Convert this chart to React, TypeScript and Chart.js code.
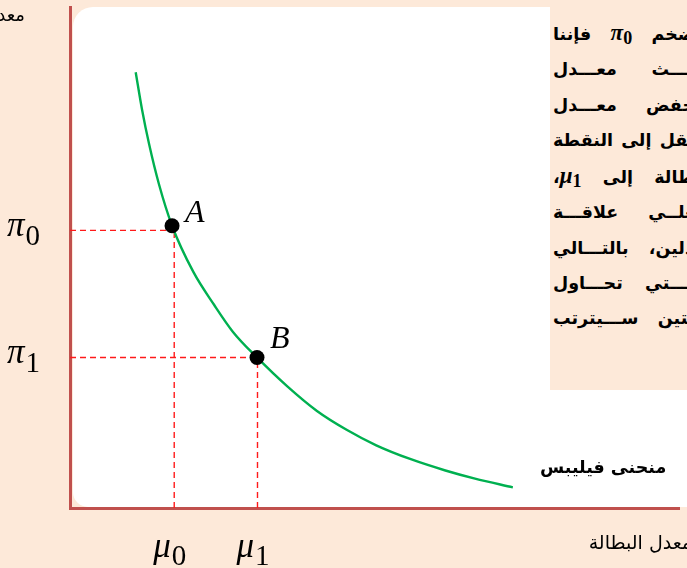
import React, { useEffect, useRef, useState } from "react";
import { Chart, registerables } from "chart.js";

Chart.register(...registerables);

// Phillips curve samples: x = unemployment, y = inflation (chart units)
const curveX = [66.5, 73, 80, 90, 103.3, 125, 146, 165, 189.3, 220, 250, 280, 310, 345, 380, 410, 448.3];
const curveY = [438, 400, 366, 325.6, 283.7, 237, 204, 177, 151.3, 122.2, 97.5, 78.6, 63, 49, 37.7, 29.5, 20.7];

// Marked states on the curve
const pointNames = ["A", "B"];
const pointX = [103.3, 189.3];
const pointY = [283.7, 151.3];

// Reference levels read on the axes (dashed guides)
const guideX = [105.5, 189.8];
const guideY = [279, 151.3];
const xTickSym = ["μ", "μ"];
const xTickSub = ["0", "1"];
const yTickSym = ["π", "π"];
const yTickSub = ["0", "1"];

const X_MAX = 617;
const Y_MAX = 503;

const yAxisTitle = "معدل التضخم";
const xAxisTitle = "معدل البطالة";
const curveName = "منحنى فيليبس";

type Part = { t?: string; m?: string; s?: string };
const noteLines: Part[][] = [
  [{ t: "\u200Dضخم " }, { m: "π", s: "0" }, { t: " فإننا" }],
  [{ t: "\u200Dيـــث معـــدل" }],
  [{ t: "\u200Dخفض معـــدل" }],
  [{ t: "\u200Dتقل إلى النقطة" }],
  [{ t: "\u200Dطالة إلى " }, { m: "μ", s: "1" }, { t: "،" }],
  [{ t: "\u200Dعلــي علاقـــة" }],
  [{ t: "\u200Dدلين، بالتـــالي" }],
  [{ t: "\u200Dلـــتي تحـــاول" }],
  [{ t: "\u200Dيتين ســـيترتب" }],
];

const PEACH = "#fde9d9";
const AXIS = "#c0504d";
const GREEN = "#00b050";
const GUIDE = "#ff1a1a";
const ARABIC = '"DejaVu Sans", sans-serif';
const SERIF = '"Liberation Serif", "DejaVu Serif", serif';

function MathLabel(props: {
  sym: string;
  sub: string;
  left: number;
  baseline: number;
  size: number;
  subSize: number;
  subDrop: number;
}) {
  const { sym, sub, left, baseline, size, subSize, subDrop } = props;
  return (
    <div
      style={{
        position: "absolute",
        left,
        top: baseline - 0.891 * size,
        fontFamily: SERIF,
        fontSize: size,
        lineHeight: "normal",
        whiteSpace: "nowrap",
        color: "#000",
      }}
    >
      <span style={{ fontStyle: "italic" }}>{sym}</span>
      <span style={{ fontSize: subSize, position: "relative", top: subDrop, marginLeft: 1 }}>{sub}</span>
    </div>
  );
}

export default function App() {
  const canvasRef = useRef<HTMLCanvasElement | null>(null);
  const [pix, setPix] = useState<null | { gx: number[]; gy: number[]; ax: number[]; ay: number[] }>(null);

  useEffect(() => {
    const canvas = canvasRef.current;
    if (!canvas) return;

    const curve = curveX.map((x, i) => ({ x, y: curveY[i] }));
    const dots = pointX.map((x, i) => ({ x, y: pointY[i] }));
    const guideSets: any[] = [];
    pointX.forEach((px, i) => {
      guideSets.push({
        type: "line",
        data: [
          { x: 0, y: guideY[i] },
          { x: px, y: guideY[i] },
        ],
        borderColor: GUIDE,
        borderWidth: 1.4,
        borderDash: [6, 4],
        pointRadius: 0,
        fill: false,
        order: 3,
      });
      guideSets.push({
        type: "line",
        data: [
          { x: guideX[i], y: 0 },
          { x: guideX[i], y: pointY[i] },
        ],
        borderColor: GUIDE,
        borderWidth: 1.4,
        borderDash: [6, 4],
        pointRadius: 0,
        fill: false,
        order: 3,
      });
    });

    const chart = new Chart(canvas, {
      type: "scatter",
      data: {
        datasets: [
          ...guideSets,
          {
            type: "line",
            data: curve,
            borderColor: GREEN,
            borderWidth: 2.4,
            pointRadius: 0,
            cubicInterpolationMode: "monotone",
            fill: false,
            order: 2,
          },
          {
            type: "scatter",
            data: dots,
            pointRadius: 7.5,
            backgroundColor: "#000",
            borderWidth: 0,
            order: 1,
          },
        ],
      },
      options: {
        animation: false,
        responsive: false,
        maintainAspectRatio: false,
        devicePixelRatio: 1,
        events: [],
        layout: { padding: { left: 70, top: 5, right: 0, bottom: 60 } },
        plugins: { legend: { display: false }, tooltip: { enabled: false } },
        scales: {
          x: {
            type: "linear",
            min: 0,
            max: X_MAX,
            ticks: { display: false },
            grid: { display: false, drawTicks: false },
            border: { display: true, color: AXIS, width: 3 },
            afterFit: (s: any) => {
              s.height = 0;
            },
          },
          y: {
            type: "linear",
            min: 0,
            max: Y_MAX,
            ticks: { display: false },
            grid: { display: false, drawTicks: false },
            border: { display: true, color: AXIS, width: 3 },
            afterFit: (s: any) => {
              s.width = 0;
            },
          },
        },
      } as any,
    } as any);

    const sx = chart.scales.x;
    const sy = chart.scales.y;
    setPix({
      gx: guideX.map((v) => sx.getPixelForValue(v)),
      gy: guideY.map((v) => sy.getPixelForValue(v)),
      ax: pointX.map((v) => sx.getPixelForValue(v)),
      ay: pointY.map((v) => sy.getPixelForValue(v)),
    });

    return () => chart.destroy();
  }, []);

  const labelDy = [-4, -10];

  return (
    <div
      style={{
        position: "fixed",
        left: 0,
        top: 0,
        width: 687,
        height: 568,
        background: PEACH,
        overflow: "hidden",
      }}
    >
      {/* white plot panel */}
      <div
        style={{
          position: "absolute",
          left: 73,
          top: 7,
          width: 640,
          height: 500,
          background: "#fff",
          borderRadius: "20px 0 0 15px",
        }}
      />
      <canvas
        ref={canvasRef}
        width={687}
        height={568}
        style={{ position: "absolute", left: 0, top: 0, width: 687, height: 568 }}
      />

      {/* explanatory note box, continuing past the right edge */}
      <div
        style={{
          position: "absolute",
          left: 550,
          top: 0,
          width: 137,
          height: 390,
          background: PEACH,
          overflow: "hidden",
        }}
      >
        <div
          style={{
            position: "absolute",
            left: 3,
            top: 15,
            width: 142,
            direction: "rtl",
            fontFamily: ARABIC,
            fontWeight: "bold",
            fontSize: 17.5,
            lineHeight: "35.3px",
            color: "#000",
          }}
        >
          {noteLines.map((parts, i) => (
            <div key={i} style={{ textAlign: "justify", textAlignLast: "justify", whiteSpace: "nowrap" }}>
              {parts.map((p, j) =>
                p.m ? (
                  <span
                    key={j}
                    dir="ltr"
                    style={{
                      unicodeBidi: "isolate",
                      fontFamily: SERIF,
                      fontStyle: "italic",
                      fontWeight: "bold",
                      fontSize: 23,
                    }}
                  >
                    {p.m}
                    <span style={{ fontStyle: "normal", fontSize: 18, position: "relative", top: 4 }}>{p.s}</span>
                  </span>
                ) : (
                  <span key={j}>{p.t}</span>
                )
              )}
            </div>
          ))}
        </div>
      </div>

      {/* axis titles */}
      <div
        style={{
          position: "absolute",
          right: 687 - 25,
          top: 4,
          direction: "rtl",
          whiteSpace: "nowrap",
          fontFamily: ARABIC,
          fontSize: 18,
          color: "#000",
        }}
      >
        {yAxisTitle}
      </div>
      <div
        style={{
          position: "absolute",
          right: -5,
          top: 531,
          direction: "rtl",
          whiteSpace: "nowrap",
          fontFamily: ARABIC,
          fontSize: 19,
          color: "#000",
        }}
      >
        {xAxisTitle}
      </div>

      {/* curve name */}
      <div
        style={{
          position: "absolute",
          left: 540,
          top: 457,
          direction: "rtl",
          whiteSpace: "nowrap",
          fontFamily: ARABIC,
          fontWeight: "bold",
          fontSize: 17.5,
          color: "#000",
        }}
      >
        {curveName}
      </div>

      {pix && (
        <>
          {yTickSym.map((s, i) => (
            <MathLabel
              key={"y" + i}
              sym={s}
              sub={yTickSub[i]}
              left={7}
              baseline={pix.gy[i] + 6}
              size={35}
              subSize={29}
              subDrop={9}
            />
          ))}
          {xTickSym.map((s, i) => (
            <MathLabel
              key={"x" + i}
              sym={s}
              sub={xTickSub[i]}
              left={pix.gx[i] - 21}
              baseline={557}
              size={35}
              subSize={29}
              subDrop={8}
            />
          ))}
          {pointNames.map((n, i) => (
            <div
              key={"p" + i}
              style={{
                position: "absolute",
                left: pix.ax[i] + 13,
                top: pix.ay[i] + labelDy[i] - 0.891 * 32,
                fontFamily: SERIF,
                fontStyle: "italic",
                fontSize: 32,
                lineHeight: "normal",
                color: "#000",
              }}
            >
              {n}
            </div>
          ))}
        </>
      )}
    </div>
  );
}
